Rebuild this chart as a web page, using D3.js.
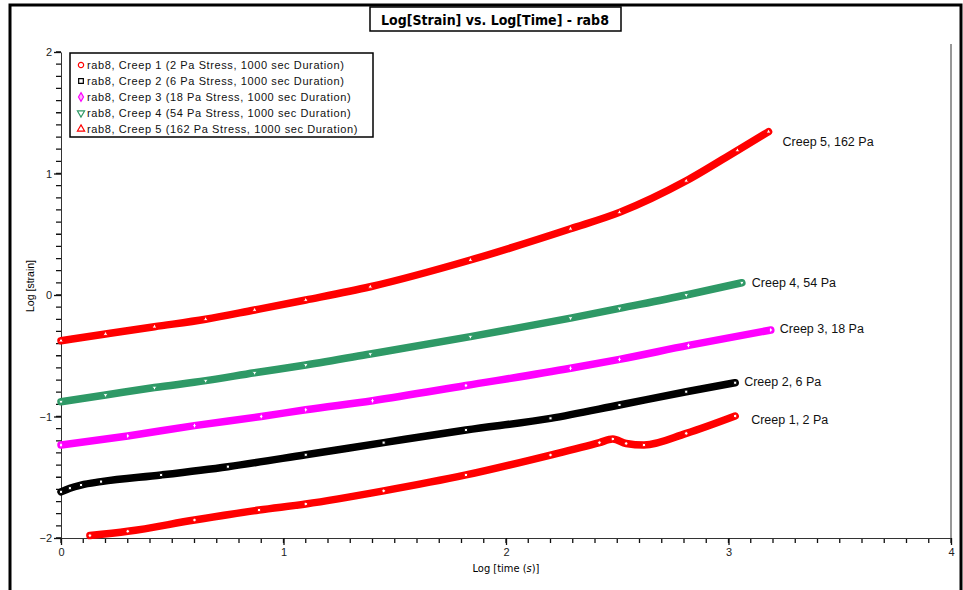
<!DOCTYPE html>
<html>
<head>
<meta charset="utf-8">
<script src="https://cdn.jsdelivr.net/npm/d3@7"></script>
<style>
  html, body { margin: 0; padding: 0; background: #fff; }
  svg { display: block; }
  text { font-family: "Liberation Sans", Arial, sans-serif; }
</style>
</head>
<body>
<svg id="chart" width="963" height="590"></svg>
<script>
// ---- Data ----
const chartTitle = "Log[Strain] vs. Log[Time] - rab8";
const xTicks = [0, 1, 2, 3, 4];
const yTicks = [-2, -1, 0, 1, 2];
const minorStep = 0.1;
const seriesNames = [
  "rab8, Creep 1 (2 Pa Stress, 1000 sec Duration)",
  "rab8, Creep 2 (6 Pa Stress, 1000 sec Duration)",
  "rab8, Creep 3 (18 Pa Stress, 1000 sec Duration)",
  "rab8, Creep 4 (54 Pa Stress, 1000 sec Duration)",
  "rab8, Creep 5 (162 Pa Stress, 1000 sec Duration)"
];
const endLabels = ["Creep 1, 2 Pa", "Creep 2, 6 Pa", "Creep 3, 18 Pa", "Creep 4, 54 Pa", "Creep 5, 162 Pa"];
const seriesColors = ["#ff0000", "#000000", "#ff00ff", "#2e9966", "#ff0000"];

// log time (x), log strain (y)
const creep1 = [[0.13,-1.98],[0.30,-1.945],[0.60,-1.852],[0.89,-1.77],[1.10,-1.72],[1.45,-1.612],[1.82,-1.481],[2.20,-1.317],[2.42,-1.215],[2.48,-1.185],[2.54,-1.222],[2.62,-1.235],[2.81,-1.139],[3.03,-0.996]];
const creep2 = [[0.00,-1.62],[0.04,-1.59],[0.09,-1.564],[0.18,-1.536],[0.45,-1.481],[0.75,-1.413],[1.10,-1.315],[1.45,-1.215],[1.82,-1.111],[2.20,-1.015],[2.51,-0.905],[2.81,-0.796],[3.03,-0.722]];
const creep3 = [[0.00,-1.235],[0.30,-1.16],[0.60,-1.075],[0.90,-1.0],[1.10,-0.945],[1.40,-0.87],[1.82,-0.745],[2.29,-0.603],[2.51,-0.53],[2.82,-0.415],[3.19,-0.288]];
const creep4 = [[0.00,-0.878],[0.20,-0.823],[0.42,-0.762],[0.65,-0.705],[0.87,-0.64],[1.10,-0.576],[1.39,-0.486],[1.84,-0.343],[2.29,-0.19],[2.51,-0.11],[2.81,0.0],[3.06,0.101]];
const creep5 = [[0.00,-0.376],[0.20,-0.321],[0.42,-0.261],[0.65,-0.20],[0.87,-0.123],[1.10,-0.041],[1.39,0.068],[1.84,0.288],[2.29,0.545],[2.51,0.68],[2.81,0.94],[3.04,1.19],[3.18,1.344]];
const allSeries = [creep1, creep2, creep3, creep4, creep5];
const symbolTypes = [d3.symbolCircle, d3.symbolSquare, d3.symbolDiamond, d3.symbolTriangle, d3.symbolTriangle];
// end-label offsets from each series' last point (dx, dy in px)
const labelOffsets = [[16, 7.5], [9, 3.5], [9, 3.5], [10, 4.5], [14, 14.5]];

// ---- Layout ----
const svg = d3.select("#chart");
const x = d3.scaleLinear().domain([0, 4]).range([61, 951]);
const y = d3.scaleLinear().domain([-2, 2]).range([538, 52]);

// outer frame
svg.append("rect").attr("x", 10).attr("y", 5).attr("width", 951).attr("height", 600)
  .attr("fill", "none").attr("stroke", "#000").attr("stroke-width", 3);

// title box
const titleG = svg.append("g");
titleG.append("rect").attr("x", 370).attr("y", 7).attr("width", 251).attr("height", 24)
  .attr("fill", "#fff").attr("stroke", "#000").attr("stroke-width", 1.5);
titleG.append("text")
  .attr("x", 495).attr("y", 25).attr("text-anchor", "middle")
  .style("font-family", "'Liberation Sans Narrow', 'DejaVu Sans Condensed', Arial, sans-serif")
  .style("font-weight", "bold").style("font-size", "14px")
  .text(chartTitle);

// minor ticks as one path per axis
const nX = Math.round((x.domain()[1] - x.domain()[0]) / minorStep);
const nY = Math.round((y.domain()[1] - y.domain()[0]) / minorStep);
const minorX = d3.range(nX + 1).map(i => x.domain()[0] + i * minorStep);
const minorY = d3.range(nY + 1).map(i => y.domain()[0] + i * minorStep);
const mxPath = d3.path();
minorX.forEach(v => { const px = x(v); mxPath.moveTo(px, y(-2)); mxPath.lineTo(px, y(-2) + 5); });
const myPath = d3.path();
minorY.forEach(v => { const py = y(v); myPath.moveTo(x(0) - 5, py); myPath.lineTo(x(0), py); });
svg.append("path").attr("d", mxPath.toString()).attr("fill", "none").attr("stroke", "#111").attr("stroke-width", 1.3);
svg.append("path").attr("d", myPath.toString()).attr("fill", "none").attr("stroke", "#111").attr("stroke-width", 1.3);

const xAxis = svg.append("g").attr("transform", `translate(0,${y(-2)})`)
  .call(d3.axisBottom(x).tickValues(xTicks).tickSize(7).tickSizeOuter(0).tickPadding(3).tickFormat(d3.format("d")));
const yAxis = svg.append("g").attr("transform", `translate(${x(0)},0)`)
  .call(d3.axisLeft(y).tickValues(yTicks).tickSize(7).tickSizeOuter(0).tickPadding(2).tickFormat(d3.format("d")));
[xAxis, yAxis].forEach(a => {
  a.selectAll("text").style("font-size", "11px").attr("fill", "#222");
  a.selectAll(".tick line").attr("stroke", "#111").attr("stroke-width", 1.3);
  a.select(".domain").attr("stroke", "#333");
});
// right border of plot
svg.append("line").attr("x1", x(4)).attr("x2", x(4)).attr("y1", y(2) - 8).attr("y2", y(-2))
  .attr("stroke", "#333");

// axis titles
const xl = svg.append("text").attr("x", 506).attr("y", 572).attr("text-anchor", "middle")
  .style("font-family", "'Liberation Sans Narrow', 'DejaVu Sans Condensed', Arial, sans-serif")
  .style("font-size", "11px");
xl.append("tspan").text("Log [time (");
xl.append("tspan").style("font-style", "italic").text("s");
xl.append("tspan").text(")]");

svg.append("text").attr("transform", `translate(34,286) rotate(-90)`).attr("text-anchor", "middle")
  .style("font-size", "10.5px").text("Log [strain]");

// series
const line = d3.line().x(d => x(d[0])).y(d => y(d[1])).curve(d3.curveMonotoneX);
const plot = svg.append("g");
allSeries.forEach((s, i) => {
  plot.append("path").datum(s).attr("d", line)
    .attr("fill", "none").attr("stroke", seriesColors[i]).attr("stroke-width", 7.5)
    .attr("stroke-linecap", "round").attr("stroke-linejoin", "round");
  plot.selectAll(null).data(s).enter().append("path")
    .attr("transform", d => `translate(${x(d[0])},${y(d[1])})` + (i === 3 ? " rotate(180)" : ""))
    .attr("d", d3.symbol().type(symbolTypes[i]).size(10))
    .attr("fill", "#fff").attr("stroke", seriesColors[i]).attr("stroke-width", 1);
});

// end labels
allSeries.forEach((s, i) => {
  const last = s[s.length - 1];
  svg.append("text")
    .attr("x", x(last[0]) + labelOffsets[i][0]).attr("y", y(last[1]) + labelOffsets[i][1])
    .style("font-size", "12.5px").attr("fill", "#111").text(endLabels[i]);
});

// legend
const lg = svg.append("g");
lg.append("rect").attr("x", 70).attr("y", 53).attr("width", 303).attr("height", 84)
  .attr("fill", "#fff").attr("stroke", "#000").attr("stroke-width", 1.5);
seriesNames.forEach((name, i) => {
  const yy = 65 + i * 16;
  lg.append("path")
    .attr("transform", `translate(81,${yy})` + (i === 3 ? " rotate(180)" : ""))
    .attr("d", d3.symbol().type(symbolTypes[i]).size(22))
    .attr("fill", i === 2 ? "#ffb3ff" : "#fff").attr("stroke", seriesColors[i]).attr("stroke-width", 1.2);
  lg.append("text").attr("x", 87).attr("y", yy + 4)
    .style("font-size", "11px").style("letter-spacing", "0.6px").attr("fill", "#111").text(name);
});
</script>
</body>
</html>
